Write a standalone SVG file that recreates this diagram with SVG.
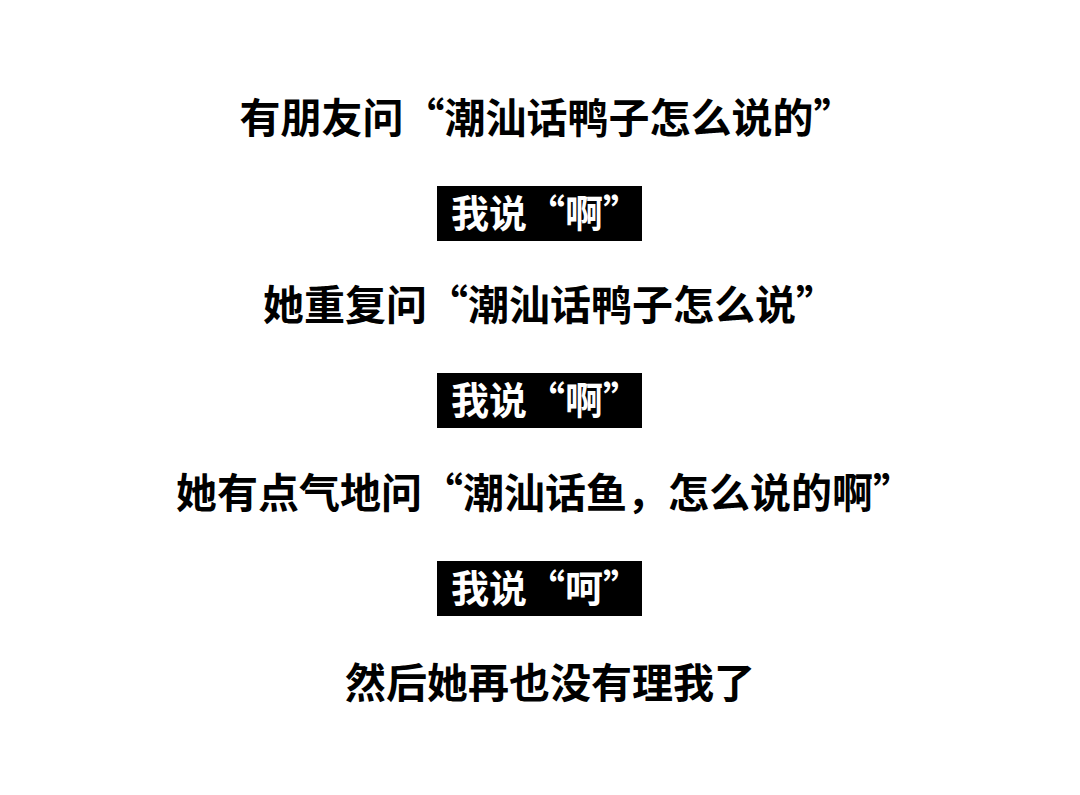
<svg xmlns="http://www.w3.org/2000/svg" width="1080" height="795" viewBox="0 0 1080 795">
<style>
text{font-family:"Noto Sans CJK SC","Noto Sans CJK JP",sans-serif;font-weight:bold;font-size:41px;text-anchor:middle}
.w{fill:#fff;font-size:38px}
.b{fill:#000}
</style>
<rect width="1080" height="795" fill="#fff"/>
<g id="l1"><text x="547" y="133">有朋友问“潮汕话鸭子怎么说的”</text></g>
<g id="b1"><rect class="b" x="437" y="186" width="205" height="55"/><text class="w" x="546" y="227">我说“啊”</text></g>
<g id="l3"><text x="550" y="320">她重复问“潮汕话鸭子怎么说”</text></g>
<g id="b2"><rect class="b" x="437" y="373" width="205" height="55"/><text class="w" x="546" y="414">我说“啊”</text></g>
<g id="l5"><text x="545" y="508">她有点气地问“潮汕话鱼，怎么说的啊”</text></g>
<g id="b3"><rect class="b" x="437" y="561" width="205" height="55"/><text class="w" x="546" y="602">我说“呵”</text></g>
<g id="l7"><text x="550" y="698">然后她再也没有理我了</text></g>
<g id="connectors"/>
</svg>
